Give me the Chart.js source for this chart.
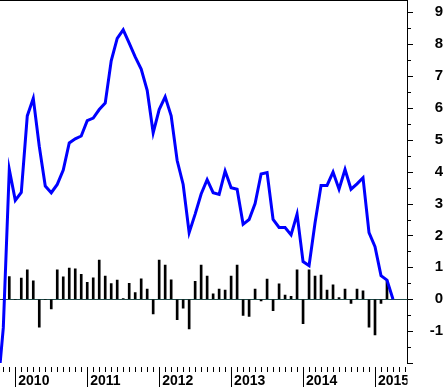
<!DOCTYPE html>
<html>
<head>
<meta charset="utf-8">
<script src="https://cdn.jsdelivr.net/npm/chart.js@4.4.1/dist/chart.umd.min.js"></script>
<style>
    html, body { margin: 0; padding: 0; background: #fff; }
</style>
</head>
<body>
<canvas id="chart" width="443" height="388"></canvas>
<script>
// Months counted from January 2010 (0 = Jan 2010, 12 = Jan 2011, ...)
const lineMonths = [-3, -2, -1, 0, 1, 2, 3, 4, 5, 6, 7, 8, 9, 10, 11, 12, 13, 14, 15, 16, 17, 18, 19, 20,
    21, 22, 23, 24, 25, 26, 27, 28, 29, 30, 31, 32, 33, 34, 35, 36, 37, 38, 39, 40, 41, 42, 43, 44,
    45, 46, 47, 48, 49, 50, 51, 52, 53, 54, 55, 56, 57, 58, 59, 60, 61, 62, 63];
const lineValues = [-3.0, -0.9, 4.07, 3.1, 3.35, 5.75, 6.3, 4.8, 3.55, 3.34, 3.6, 4.05, 4.9, 5.03, 5.12,
    5.6, 5.68, 5.95, 6.15, 7.48, 8.18, 8.45, 8.03, 7.6, 7.22, 6.55, 5.22, 5.95, 6.35, 5.75, 4.35, 3.6,
    2.09, 2.67, 3.3, 3.75, 3.34, 3.29, 4.02, 3.5, 3.45, 2.35, 2.5, 3.0, 3.93, 3.97, 2.5, 2.25, 2.25,
    2.02, 2.67, 1.18, 1.05, 2.4, 3.57, 3.57, 3.99, 3.45, 4.07, 3.45, 3.62, 3.81, 2.09, 1.65, 0.74,
    0.6, 0.0];

const barMonths = [-2, -1, 0, 1, 2, 3, 4, 5, 6, 7, 8, 9, 10, 11, 12, 13, 14, 15, 16, 17, 18, 19, 20,
    21, 22, 23, 24, 25, 26, 27, 28, 29, 30, 31, 32, 33, 34, 35, 36, 37, 38, 39, 40, 41, 42, 43, 44,
    45, 46, 47, 48, 49, 50, 51, 52, 53, 54, 55, 56, 57, 58, 59, 60, 61, 62];
const barValues = [0, 0.71, 0, 0.66, 0.92, 0.58, -0.88, 0, -0.30, 0.92, 0.70, 0.98, 0.95, 0.78, 0.53,
    0.67, 1.23, 0.73, 0.49, 0.60, 0.02, 0.50, 0.21, 0.64, 0.32, -0.46, 1.23, 1.07, 0.61, -0.64, -0.28,
    -0.93, 0.56, 1.07, 0.73, 0.17, 0.32, 0.29, 0.73, 1.07, -0.51, -0.54, 0.32, -0.05, 0.63, -0.36,
    0.48, 0.13, 0.09, 0.92, -0.77, 0.92, 0.73, 0.76, 0.29, 0.45, 0.05, 0.32, -0.13, 0.32, 0.26,
    -0.88, -1.12, -0.13, 0.58];

const yearMonths = [0, 12, 24, 36, 48, 60];
const yearLabels = ['2010', '2011', '2012', '2013', '2014', '2015'];
const yTickValues = [-2, -1, 0, 1, 2, 3, 4, 5, 6, 7, 8, 9];

const fontFamily = '"Liberation Sans", Arial, sans-serif';

// Draws zero line, tick marks, top border and year labels
const axisMarks = {
    id: 'axisMarks',
    beforeDatasetsDraw(chart) {
        const { ctx, chartArea, scales: { y } } = chart;
        const y0 = Math.round(y.getPixelForValue(0)) + 0.5;
        ctx.save();
        ctx.strokeStyle = '#1f4a48';
        ctx.lineWidth = 1;
        ctx.beginPath();
        ctx.moveTo(chartArea.left, y0);
        ctx.lineTo(chartArea.right, y0);
        ctx.stroke();
        ctx.restore();
    },
    afterDraw(chart) {
        const { ctx, chartArea, scales: { x, y } } = chart;
        ctx.save();
        ctx.strokeStyle = '#000';
        ctx.lineWidth = 1;

        // top border
        ctx.beginPath();
        ctx.moveTo(chartArea.left, chartArea.top + 0.5);
        ctx.lineTo(chartArea.right, chartArea.top + 0.5);
        ctx.stroke();

        // right axis ticks
        const ax = Math.round(chartArea.right);
        for (let v = Math.ceil(y.min * 2) / 2; v <= y.max; v += 0.5) {
            const py = Math.round(y.getPixelForValue(v)) + 0.5;
            const len = Number.isInteger(v) ? 5 : 3;
            ctx.beginPath();
            ctx.moveTo(ax, py);
            ctx.lineTo(ax + len, py);
            ctx.stroke();
        }

        // bottom month ticks
        const top = chartArea.bottom + 4;
        for (let k = Math.ceil(x.min); k <= x.max; k++) {
            const px = Math.round(x.getPixelForValue(k)) + 0.5;
            const isYear = yearMonths.includes(k);
            ctx.beginPath();
            ctx.moveTo(px, top);
            ctx.lineTo(px, isYear ? top + 20 : top + 5);
            ctx.stroke();
        }

        // year labels, clipped at the right axis
        ctx.beginPath();
        ctx.rect(0, chartArea.bottom, chartArea.right, 40);
        ctx.clip();
        ctx.fillStyle = '#000';
        ctx.font = 'bold 14px ' + fontFamily;
        ctx.textAlign = 'left';
        ctx.textBaseline = 'alphabetic';
        yearMonths.forEach((m, i) => {
            const px = x.getPixelForValue(m);
            ctx.fillText(yearLabels[i], px + 3, chartArea.bottom + 22);
        });
        ctx.restore();
    }
};

new Chart(document.getElementById('chart'), {
    data: {
        datasets: [
            {
                type: 'line',
                data: lineMonths.map((m, i) => ({ x: m, y: lineValues[i] })),
                borderColor: '#0000ff',
                borderWidth: 3,
                pointRadius: 0,
                tension: 0,
                order: 0,
            },
            {
                type: 'bar',
                data: barMonths.map((m, i) => ({ x: m, y: barValues[i] })),
                backgroundColor: '#000',
                barThickness: 2,
                order: 1,
            },
        ],
    },
    options: {
        responsive: false,
        devicePixelRatio: 1,
        animation: false,
        layout: { padding: { left: 0, top: 0, right: 0, bottom: 25 } },
        plugins: {
            legend: { display: false },
            tooltip: { enabled: false },
        },
        scales: {
            x: {
                type: 'linear',
                display: false,
                min: -2.55,
                max: 65.42,
                offset: false,
            },
            y: {
                position: 'right',
                min: -2,
                max: 9.385,
                afterBuildTicks(scale) {
                    scale.ticks = yTickValues.map((v) => ({ value: v }));
                },
                afterFit(scale) {
                    scale.width = 35.5;
                    scale.paddingTop = 0;
                    scale.paddingBottom = 0;
                },
                grid: { drawOnChartArea: false, drawTicks: false },
                border: { display: true, color: '#000', width: 1 },
                ticks: {
                    padding: 19,
                    crossAlign: 'far',
                    color: '#000',
                    font: { family: fontFamily, size: 15, weight: 'bold' },
                    callback: (value) => (value >= -1 ? value : ''),
                },
            },
        },
    },
    plugins: [axisMarks],
});
</script>
</body>
</html>
